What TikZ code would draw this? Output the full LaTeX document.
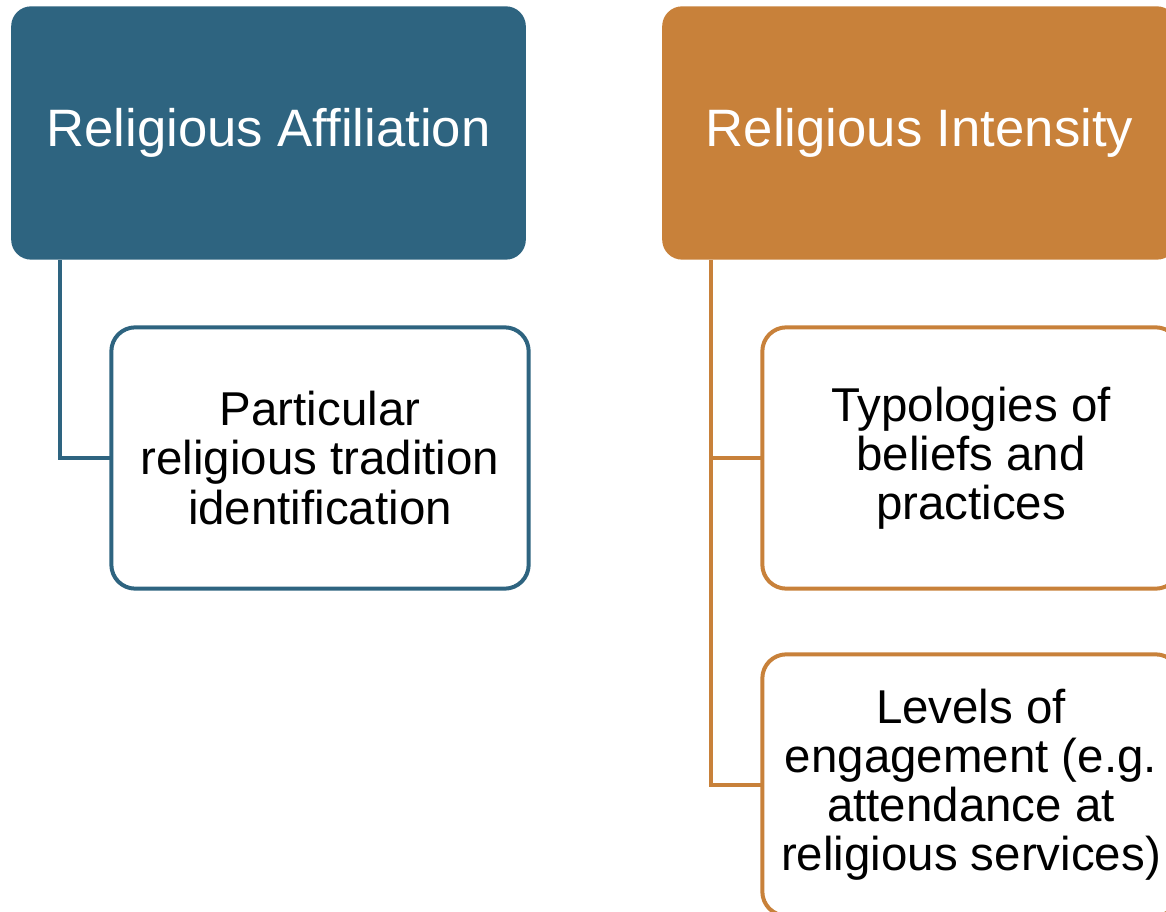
\documentclass[tikz,border=0pt]{standalone}
\usepackage{fontspec}
\setmainfont{Liberation Sans}
\definecolor{affblue}{HTML}{2E6480}
\definecolor{intorange}{HTML}{C8813A}
\tikzset{
  header/.style={rectangle, rounded corners=15pt, inner sep=0pt, outer sep=0pt,
    minimum width=386pt, minimum height=190pt, text=white, align=center,
    font=\fontsize{39.5}{44}\selectfont},
  childbox/.style={rectangle, rounded corners=18pt, inner sep=0pt, outer sep=0pt,
    fill=white, line width=3pt, minimum width=313pt, minimum height=196pt,
    text=black, align=center, font=\fontsize{35.6}{36.8}\selectfont},
  link/.style={line width=3pt}
}
\begin{document}
\begin{tikzpicture}[x=0.75pt,y=-0.75pt]
  \useasboundingbox (0,0) rectangle (1166,912);
  \clip (0,0) rectangle (1166,912);
  % headers
  \node[header, fill=affblue] (hA) at (268.5,133) {Religious Affiliation};
  \node[header, fill=intorange] (hB) at (919.5,133) {Religious Intensity};
  % child boxes
  \node[childbox, draw=affblue] (cA) at (320,458) {Particular\\religious tradition\\identification};
  \node[childbox, draw=intorange] (cB1) at (971,458) {Typologies of\\beliefs and\\practices};
  \node[childbox, draw=intorange] (cB2) at (971,785) {Levels of\\engagement (e.g.\\attendance at\\religious services)};
  % connectors
  \coordinate (tA) at (60,260);
  \coordinate (tB) at (711,260);
  \draw[link, affblue] (tA) |- (cA.west);
  \draw[link, intorange] (tB) |- (cB1.west);
  \draw[link, intorange] (tB) |- (cB2.west);
\end{tikzpicture}
\end{document}
